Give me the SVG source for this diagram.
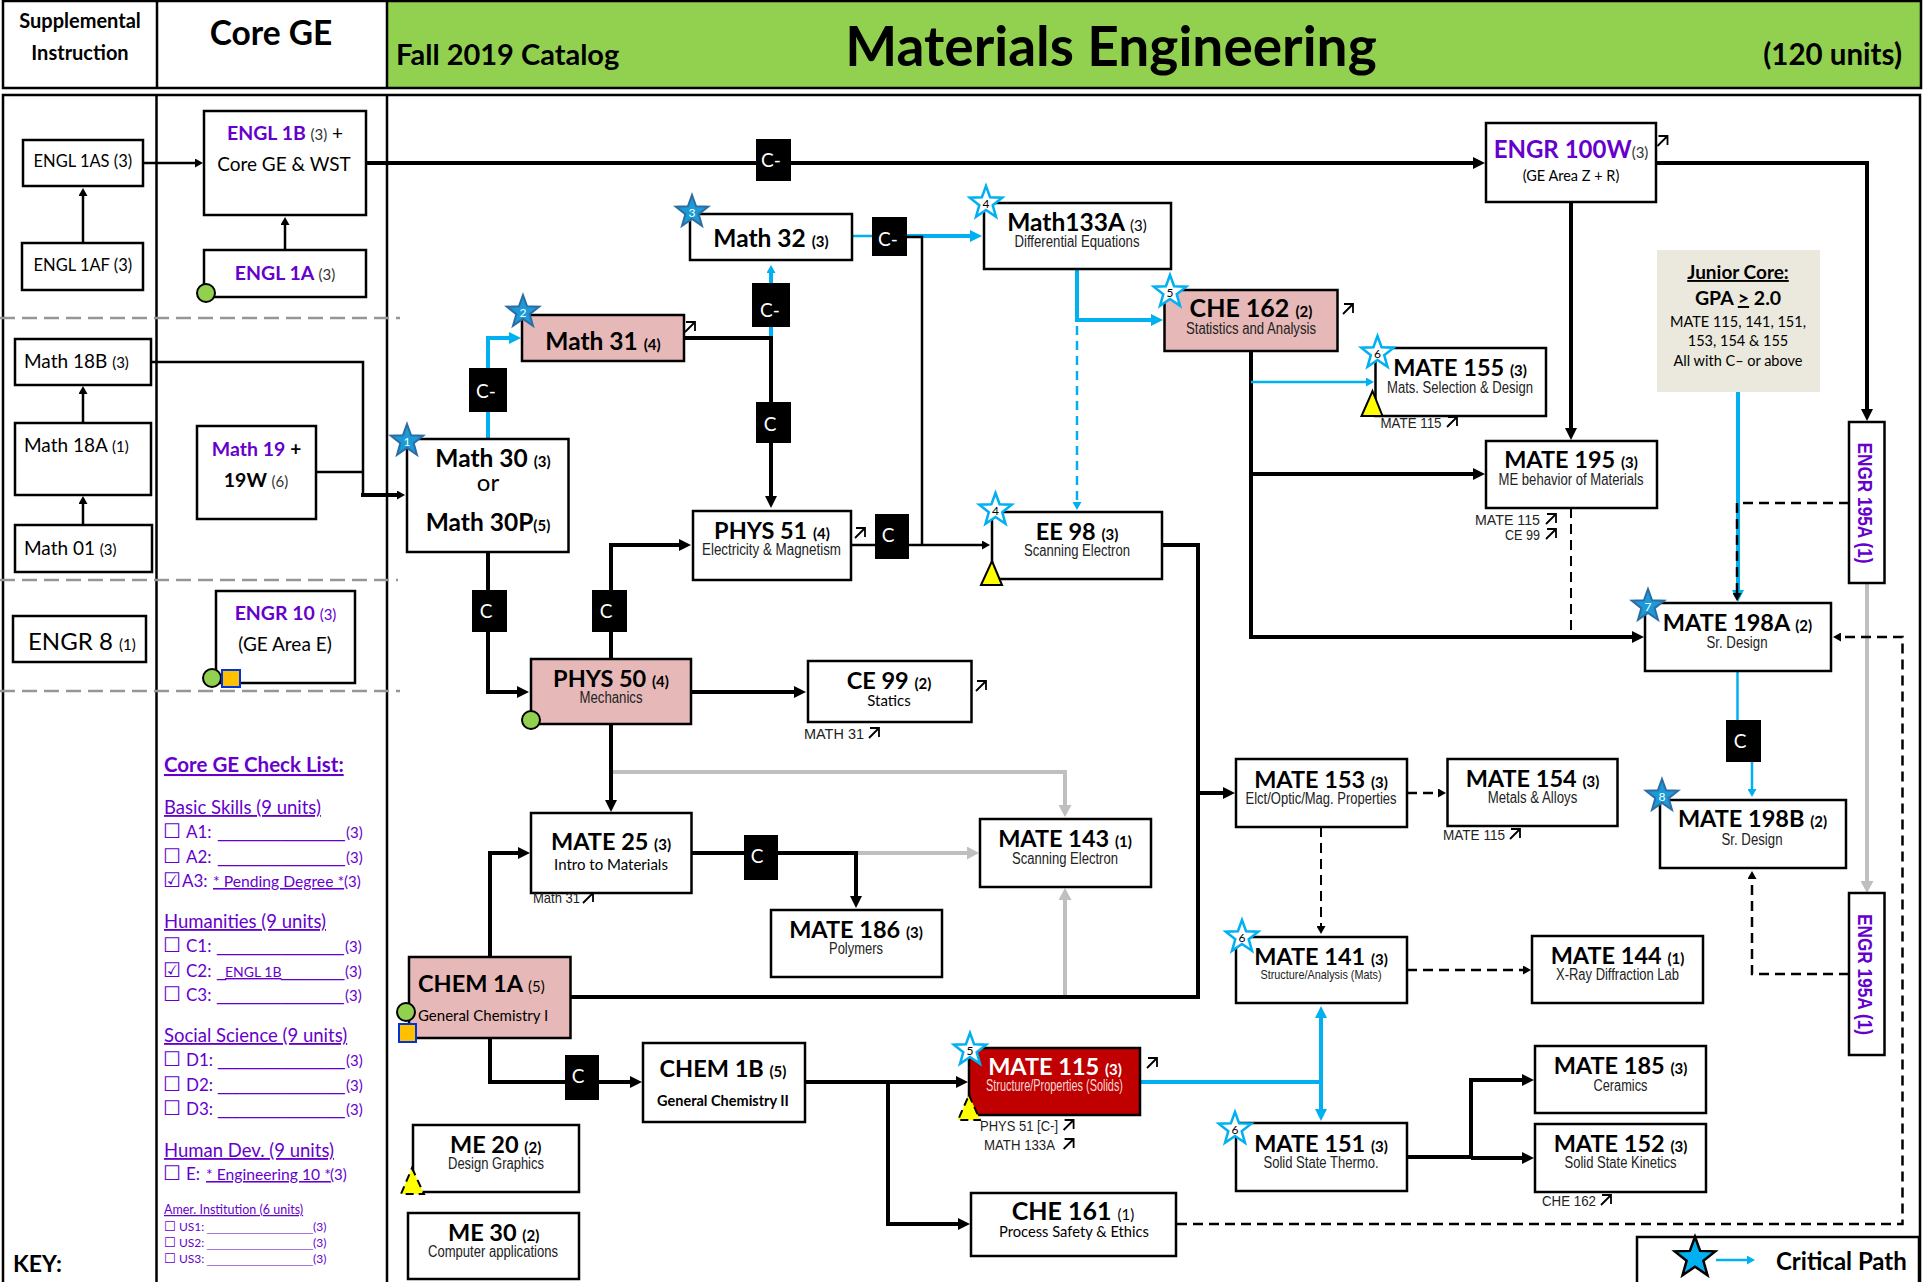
<svg xmlns="http://www.w3.org/2000/svg" width="1923" height="1282" viewBox="0 0 1923 1282">
<style>
text{font-family:Lato,"Liberation Sans",sans-serif;fill:#000;text-decoration-skip-ink:none}
.box{fill:#fff;stroke:#000;stroke-width:2.5}
.pink{fill:#e6b8b7}
.b{font-weight:700;font-size:23.5px;text-anchor:middle}
.b tspan{font-size:15px}
.w{font-size:24.5px}
.s{font-family:"Liberation Sans",sans-serif;font-size:16px;text-anchor:middle;fill:#222}
.n{font-family:"Liberation Sans",sans-serif;font-size:15px;fill:#222}
.l{font-size:16.5px}
.l2{font-size:19px}
.l2 tspan{font-size:15px}
.p{fill:#6600cc;font-weight:700;font-size:19.5px;text-anchor:middle}
.p tspan{font-weight:400;font-size:15px;fill:#333}
.m{font-size:19px;text-anchor:middle}
.ck{fill:#6600cc;font-size:17px}
.ck tspan{fill:#6600cc}
.ck .cb{font-family:"DejaVu Sans",sans-serif;font-size:20px;font-weight:700}
.ck .u{font-size:15px}
.ck .us{font-family:"Liberation Sans",sans-serif;font-size:16.3px}
.ck .pd{font-size:15.7px;text-decoration:underline}
.sm{font-size:12px}
.ck.sm .cb{font-size:13px}
.ck.sm .us{font-size:11.9px;fill:#9a66dd}
.h{fill:#6600cc;font-size:18.5px;text-decoration:underline}
.c{fill:#000}
.ct{fill:#fff;font-size:19px;text-anchor:middle}
.v{font-family:"Liberation Sans",sans-serif;fill:#6600cc;font-size:20px;font-weight:700;text-anchor:middle}
.k{fill:none;stroke:#000;stroke-width:4}
.t{fill:none;stroke:#000;stroke-width:2.5}
.bl{fill:none;stroke:#00b0f0;stroke-width:4}
.bt{fill:none;stroke:#00b0f0;stroke-width:2.5}
.g{fill:none;stroke:#bfbfbf;stroke-width:4}
.d{fill:none;stroke:#000;stroke-width:2.5;stroke-dasharray:10 6}
.dv{fill:none;stroke:#000;stroke-width:2;stroke-dasharray:10 6}
.gd{fill:none;stroke:#969696;stroke-width:2.5;stroke-dasharray:15 7}
.s1{fill:#1a9ad6;stroke:#2e6ca4;stroke-width:2}
.s2{fill:#fff;stroke:#00b0f0;stroke-width:2.5}
.sn1{fill:#fff;font-size:12px;text-anchor:middle}
.sn2{fill:#000;font-size:12px;text-anchor:middle}
.tri{fill:#ffff00;stroke:#000;stroke-width:2}
.trid{fill:#ffff00;stroke:#000;stroke-width:2;stroke-dasharray:8 5}
.gc{fill:#92d050;stroke:#000;stroke-width:2}
.os{fill:#ffc000;stroke:#0033e0;stroke-width:2}
.ur{fill:none;stroke:#000;stroke-width:1.8}
</style>
<defs>
<marker id="ak" markerUnits="userSpaceOnUse" markerWidth="12" markerHeight="12" viewBox="0 0 12 12" refX="1" refY="6" orient="auto"><path d="M0 0L12 6L0 12z" fill="#000"/></marker>
<marker id="as" markerUnits="userSpaceOnUse" markerWidth="8" markerHeight="9" viewBox="0 0 8 9" refX="1" refY="4.5" orient="auto"><path d="M0 0L8 4.5L0 9z" fill="#000"/></marker>
<marker id="ab" markerUnits="userSpaceOnUse" markerWidth="12" markerHeight="12" viewBox="0 0 12 12" refX="1" refY="6" orient="auto"><path d="M0 0L12 6L0 12z" fill="#00b0f0"/></marker>
<marker id="abs" markerUnits="userSpaceOnUse" markerWidth="8" markerHeight="9" viewBox="0 0 8 9" refX="1" refY="4.5" orient="auto"><path d="M0 0L8 4.5L0 9z" fill="#00b0f0"/></marker>
<marker id="ag" markerUnits="userSpaceOnUse" markerWidth="12" markerHeight="13" viewBox="0 0 12 13" refX="1" refY="6.5" orient="auto"><path d="M0 0L12 6.5L0 13z" fill="#bfbfbf"/></marker>
<polygon id="star" points="0,-17 4.1,-5.7 16.2,-5.3 6.7,2.2 10,13.8 0,7 -10,13.8 -6.7,2.2 -16.2,-5.3 -4.1,-5.7"/>
<path id="ne" d="M-5 5L5 -5M-4 -5H5V4" class="ur"/>
</defs>

<g id="frame">
<rect x="387" y="1" width="1534" height="87" fill="#92d050"/>
<path d="M3 88V1H1921V88ZM157 1V88M387 1V88" fill="none" stroke="#000" stroke-width="2.5"/>
<path d="M3 1282V95H1920V1282M156.500 95V1282M387 95V1282" fill="none" stroke="#000" stroke-width="2.5"/>
<path class="gd" d="M0 318H400M0 580H398M0 691H400"/>
<text x="80" y="28" font-size="20" font-weight="700" text-anchor="middle">Supplemental</text>
<text x="80" y="60" font-size="20" font-weight="700" text-anchor="middle">Instruction</text>
<text x="271" y="45" font-size="33.500" font-weight="700" text-anchor="middle">Core GE</text>
<text x="396" y="65" font-size="29" font-weight="700">Fall 2019 Catalog</text>
<text x="1111" y="66" font-size="55" font-weight="700" text-anchor="middle">Materials Engineering</text>
<text x="1902" y="65" font-size="29.500" font-weight="700" text-anchor="end">(120 units)</text>
<text x="13" y="1272" font-size="23" font-weight="700">KEY:</text>
</g>

<g id="connectors">
<path class="g" d="M611 772H1065V806" marker-end="url(#ag)"/>
<path class="g" d="M856 853H968" marker-end="url(#ag)"/>
<path class="g" d="M1065 997V899" marker-end="url(#ag)"/>
<path class="g" d="M1867 583V882" stroke-width="3" marker-end="url(#ag)"/>

<path class="t" d="M143 163H196" marker-end="url(#as)"/>
<path class="t" d="M83 243V195" marker-end="url(#as)"/>
<path class="t" d="M285 250V224" marker-end="url(#as)"/>
<path class="t" d="M83 423V393" marker-end="url(#as)"/>
<path class="t" d="M83 525V503" marker-end="url(#as)"/>
<path class="t" d="M151 362H363V495"/>
<path class="t" d="M316 472H362"/>
<path class="k" d="M361 495H398" stroke-width="3" marker-end="url(#as)"/>

<path class="k" d="M366 163H1474" marker-end="url(#ak)"/>
<path class="k" d="M1656 163H1867V410" marker-end="url(#ak)"/>
<path class="k" d="M1571 202V429" marker-end="url(#ak)"/>

<path class="bl" d="M488 439V338H510" marker-end="url(#ab)"/>
<path class="k" d="M488 552V692H518" marker-end="url(#ak)"/>
<path class="bl" d="M771 338V272" marker-end="url(#abs)"/>
<path class="k" d="M684 338H771V497" marker-end="url(#ak)"/>
<path class="bt" d="M852 236H890"/>
<path class="bl" d="M900 236H971" marker-end="url(#ab)"/>
<path class="t" d="M900 237H922V545"/>
<path class="t" d="M851 545H983" marker-end="url(#as)"/>
<path class="bl" d="M1077 269V320H1152" marker-end="url(#ab)"/>
<path class="bt" d="M1077 326V503" stroke-dasharray="9 6"/>
<path class="bt" d="M1077 502V503" marker-end="url(#abs)"/>
<path class="k" d="M1251 351V637H1633" marker-end="url(#ak)"/>
<path class="bt" d="M1251 382H1367" marker-end="url(#abs)"/>
<path class="k" d="M1251 474H1474" marker-end="url(#ak)"/>
<path class="dv" d="M1571 508V637"/>
<path class="bl" d="M1738 392V591" marker-end="url(#ab)"/>
<path class="d" d="M1849 503H1737V594" marker-end="url(#as)"/>
<path class="bt" d="M1737.500 671V720"/>
<path class="bt" d="M1752 762V790" marker-end="url(#abs)"/>
<path class="d" d="M1849 974H1752V878" marker-end="url(#as)"/>

<path class="k" d="M611 659V545H680" marker-end="url(#ak)"/>
<path class="k" d="M691 692H795" marker-end="url(#ak)"/>
<path class="k" d="M611 724V801" marker-end="url(#ak)"/>
<path class="k" d="M691 853H856V897" marker-end="url(#ak)"/>
<path class="k" d="M490 957V853H519" marker-end="url(#ak)"/>
<path class="k" d="M571 997H1198V545H1162"/>
<path class="k" d="M1198 793H1224" marker-end="url(#ak)"/>
<path class="k" d="M490 1038V1082H631" marker-end="url(#ak)"/>
<path class="k" d="M805 1082H957" marker-end="url(#ak)"/>
<path class="k" d="M888 1082V1224H959" marker-end="url(#ak)"/>
<path class="bl" d="M1140 1082H1321"/>
<path class="bl" d="M1321 1082V1017" marker-end="url(#ab)"/>
<path class="bl" d="M1321 1082V1110" marker-end="url(#ab)"/>
<path class="k" d="M1407 1157H1471V1080H1523" marker-end="url(#ak)"/>
<path class="k" d="M1471 1158H1523" marker-end="url(#ak)"/>
<path class="d" d="M1407 793H1439" marker-end="url(#as)"/>
<path class="dv" d="M1321 827V927" marker-end="url(#as)"/>
<path class="d" d="M1407 970H1524" marker-end="url(#as)"/>
<path class="d" d="M1177 1224H1902.500V637H1840" marker-end="url(#as)"/>
</g>

<g id="grades">
<g id="g1"><rect class="c" x="469" y="368" width="38" height="44"/><text class="ct" x="486" y="398">C-</text></g>
<g id="g2"><rect class="c" x="472" y="590" width="35" height="42"/><text class="ct" x="486" y="618">C</text></g>
<g id="g3"><rect class="c" x="592" y="590" width="35" height="42"/><text class="ct" x="606" y="618">C</text></g>
<g id="g4"><rect class="c" x="756" y="139" width="35" height="42"/><text class="ct" x="771" y="167">C-</text></g>
<g id="g5"><rect class="c" x="872" y="217" width="35" height="39"/><text class="ct" x="888" y="246">C-</text></g>
<g id="g6"><rect class="c" x="752" y="283" width="38" height="44"/><text class="ct" x="770" y="317">C-</text></g>
<g id="g7"><rect class="c" x="756" y="402" width="35" height="41"/><text class="ct" x="770" y="431">C</text></g>
<g id="g8"><rect class="c" x="875" y="514" width="34" height="45"/><text class="ct" x="888" y="542">C</text></g>
<g id="g9"><rect class="c" x="744" y="835" width="34" height="45"/><text class="ct" x="757" y="863">C</text></g>
<g id="g10"><rect class="c" x="565" y="1055" width="34" height="45"/><text class="ct" x="578" y="1083">C</text></g>
<g id="g11"><rect class="c" x="1726" y="720" width="35" height="42"/><text class="ct" x="1740" y="748">C</text></g>
</g>

<g id="engl1as"><rect class="box" x="23" y="140" width="120" height="46"/><text class="l" x="33.500" y="167">ENGL 1AS (3)</text></g>
<g id="engl1af"><rect class="box" x="22" y="243" width="121" height="47"/><text class="l" x="33.500" y="271">ENGL 1AF (3)</text></g>
<g id="engl1b"><rect class="box" x="204" y="111" width="162" height="104"/><text class="p" x="285" y="140">ENGL 1B <tspan>(3)</tspan> <tspan style="fill:#000;font-size:19px">+</tspan></text><text class="m" x="284" y="171">Core GE &amp; WST</text></g>
<g id="engl1a"><rect class="box" x="204" y="250" width="162" height="47"/><text class="p" x="285" y="280">ENGL 1A <tspan>(3)</tspan></text><circle class="gc" cx="206" cy="293" r="9"/></g>
<g id="math18b"><rect class="box" x="15" y="339" width="136" height="46"/><text class="l2" x="24" y="368">Math 18B <tspan>(3)</tspan></text></g>
<g id="math18a"><rect class="box" x="15" y="423" width="136" height="72"/><text class="l2" x="24" y="452">Math 18A <tspan>(1)</tspan></text></g>
<g id="math01"><rect class="box" x="15" y="525" width="137" height="47"/><text class="l2" x="24" y="555">Math 01 <tspan>(3)</tspan></text></g>
<g id="math19"><rect class="box" x="197" y="426" width="119" height="93"/><text class="p" x="256.500" y="456">Math 19 <tspan style="font-weight:700;font-size:19px;fill:#000">+</tspan></text><text class="p" style="fill:#000" x="256" y="487">19W  <tspan>(6)</tspan></text></g>
<g id="engr8"><rect class="box" x="13" y="616" width="133" height="46"/><text x="28" y="650" font-size="24">ENGR 8 <tspan font-size="15">(1)</tspan></text></g>
<g id="engr10"><rect class="box" x="216" y="591" width="139" height="92"/><text class="p" x="285.500" y="620">ENGR 10 <tspan style="fill:#6600cc">(3)</tspan></text><text class="m" x="285" y="651">(GE Area E)</text><circle class="gc" cx="212" cy="678" r="9"/><rect class="os" x="222" y="670" width="18" height="17"/></g>

<g id="math30"><rect class="box" x="407" y="439" width="161.500" height="113"/><text class="b w" x="493" y="467">Math 30 <tspan>(3)</tspan></text><text x="488" y="491" font-size="24" text-anchor="middle">or</text><text class="b w" x="488" y="531">Math 30P<tspan>(5)</tspan></text><use href="#star" class="s1" x="407" y="441"/><text class="sn1" x="407" y="446">1</text></g>
<g id="math31"><rect class="box pink" x="522" y="315" width="162" height="46"/><text class="b w" x="603" y="350">Math 31 <tspan>(4)</tspan></text><use href="#star" class="s1" x="523" y="312"/><text class="sn1" x="523" y="317">2</text><use href="#ne" x="690" y="327"/></g>
<g id="math32"><rect class="box" x="690" y="214" width="162" height="46"/><text class="b w" x="771" y="247">Math 32 <tspan>(3)</tspan></text><use href="#star" class="s1" x="692" y="212"/><text class="sn1" x="692" y="217">3</text></g>
<g id="math133a"><rect class="box" x="984" y="203" width="187" height="66"/><text class="b w" x="1077" y="231">Math133A <tspan style="font-weight:400">(3)</tspan></text><text class="s" x="1077" y="247" textLength="125" lengthAdjust="spacingAndGlyphs">Differential Equations</text><use href="#star" class="s2" x="986" y="203"/><text class="sn2" x="986" y="208">4</text></g>
<g id="che162"><rect class="box pink" x="1164.500" y="290" width="173" height="61"/><text class="b" style="font-size:25px" x="1251" y="317">CHE 162 <tspan>(2)</tspan></text><text class="s" x="1251" y="334" textLength="130" lengthAdjust="spacingAndGlyphs">Statistics and Analysis</text><use href="#star" class="s2" x="1170" y="292"/><text class="sn2" x="1170" y="297">5</text><use href="#ne" x="1348" y="309"/></g>
<g id="engr100w"><rect class="box" x="1486" y="123" width="170" height="79"/><text class="b" x="1571" y="158" style="fill:#6600cc;font-size:24px">ENGR 100W<tspan style="fill:#333;font-weight:400">(3)</tspan></text><text x="1571" y="181" font-size="14.500" text-anchor="middle" fill="#222">(GE Area Z + R)</text><use href="#ne" x="1662.500" y="141"/></g>
<g id="mate155"><rect class="box" x="1375.500" y="348" width="170.500" height="68"/><text class="b" x="1460" y="376">MATE 155 <tspan>(3)</tspan></text><text class="s" x="1460" y="393" textLength="146" lengthAdjust="spacingAndGlyphs">Mats. Selection &amp; Design</text><text class="n" x="1380.500" y="428" textLength="61" lengthAdjust="spacingAndGlyphs">MATE 115</text><use href="#ne" x="1452" y="422"/><use href="#star" class="s2" x="1377.500" y="353"/><text class="sn2" x="1377.500" y="358">6</text><polygon class="tri" points="1372.500,391 1382.500,416 1361.500,416"/></g>
<g id="mate195"><rect class="box" x="1486" y="441" width="171" height="67"/><text class="b" x="1571" y="468">MATE 195 <tspan>(3)</tspan></text><text class="s" x="1571" y="485" textLength="145" lengthAdjust="spacingAndGlyphs">ME behavior of Materials</text><text class="n" x="1475" y="525" textLength="65" lengthAdjust="spacingAndGlyphs">MATE 115</text><use href="#ne" x="1551" y="519"/><text class="n" x="1505" y="540" textLength="35" lengthAdjust="spacingAndGlyphs">CE 99</text><use href="#ne" x="1551" y="534"/></g>
<g id="juniorcore"><rect x="1657" y="250" width="163" height="142" fill="#ebe9dd"/><text x="1738" y="279" font-size="19" font-weight="700" text-anchor="middle" text-decoration="underline">Junior Core:</text><text x="1738" y="305" font-size="19.500" font-weight="700" text-anchor="middle">GPA <tspan text-decoration="underline">&gt;</tspan> 2.0</text><text x="1738" y="327" font-size="14.500" text-anchor="middle">MATE 115, 141, 151,</text><text x="1738" y="346" font-size="14.500" text-anchor="middle">153, 154 &amp; 155</text><text x="1738" y="366" font-size="14.500" text-anchor="middle">All with C– or above</text></g>
<g id="engr195a1"><rect class="box" x="1849" y="422" width="35.500" height="161"/><text class="v" transform="translate(1858 503) rotate(90)" textLength="121" lengthAdjust="spacingAndGlyphs">ENGR 195A (1)</text></g>
<g id="engr195a2"><rect class="box" x="1849" y="893" width="35.500" height="162"/><text class="v" transform="translate(1858 974.500) rotate(90)" textLength="121" lengthAdjust="spacingAndGlyphs">ENGR 195A (1)</text></g>

<g id="phys51"><rect class="box" x="693" y="511" width="158" height="69"/><text class="b" x="772" y="539">PHYS 51 <tspan>(4)</tspan></text><text class="s" x="771.500" y="555" textLength="139" lengthAdjust="spacingAndGlyphs">Electricity &amp;  Magnetism</text><use href="#ne" x="860" y="533"/></g>
<g id="ee98"><rect class="box" x="992" y="512" width="170" height="67"/><text class="b" x="1077" y="540">EE 98 <tspan>(3)</tspan></text><text class="s" x="1077" y="556" textLength="106" lengthAdjust="spacingAndGlyphs">Scanning Electron</text><use href="#star" class="s2" x="995.500" y="510"/><text class="sn2" x="995.500" y="515">4</text><polygon class="tri" points="992,561 1002,585 981,585"/></g>
<g id="phys50"><rect class="box pink" x="531" y="659" width="160" height="65"/><text class="b" x="611" y="687">PHYS 50 <tspan>(4)</tspan></text><text class="s" x="611" y="703" textLength="63" lengthAdjust="spacingAndGlyphs">Mechanics</text><circle class="gc" cx="531" cy="720" r="9"/></g>
<g id="ce99"><rect class="box" x="808" y="661" width="163.500" height="61"/><text class="b" x="889" y="689">CE 99 <tspan>(2)</tspan></text><text x="889" y="706" font-size="15" text-anchor="middle" fill="#222">Statics</text><use href="#ne" x="981" y="686"/><text class="n" x="804" y="739" textLength="60" lengthAdjust="spacingAndGlyphs">MATH 31</text><use href="#ne" x="874" y="733"/></g>
<g id="mate25"><rect class="box" x="531" y="813" width="160.500" height="80"/><text class="b" x="611" y="850">MATE 25 <tspan>(3)</tspan></text><text x="611" y="870" font-size="15" text-anchor="middle" fill="#222">Intro to Materials</text><text class="n" x="533" y="903" textLength="47" lengthAdjust="spacingAndGlyphs">Math 31</text><use href="#ne" x="588" y="898"/></g>
<g id="mate143"><rect class="box" x="980" y="819" width="171" height="68"/><text class="b" x="1065" y="847">MATE 143 <tspan>(1)</tspan></text><text class="s" x="1065" y="864" textLength="106" lengthAdjust="spacingAndGlyphs">Scanning Electron</text></g>
<g id="mate186"><rect class="box" x="771" y="910" width="171" height="67"/><text class="b" x="856" y="938">MATE 186 <tspan>(3)</tspan></text><text class="s" x="856" y="954" textLength="54" lengthAdjust="spacingAndGlyphs">Polymers</text></g>
<g id="chem1a"><rect class="box pink" x="409" y="957" width="161.500" height="81"/><text class="b" x="418" y="992" style="text-anchor:start">CHEM 1A <tspan style="font-weight:400">(5)</tspan></text><text x="418" y="1021" font-size="15" fill="#222">General Chemistry I</text><circle class="gc" cx="406" cy="1012" r="9"/><rect class="os" x="399" y="1024" width="17" height="18"/></g>
<g id="chem1b"><rect class="box" x="643" y="1043" width="162" height="79"/><text class="b" x="723" y="1077">CHEM 1B <tspan>(5)</tspan></text><text x="723" y="1106" font-size="14.500" font-weight="700" text-anchor="middle">General Chemistry II</text></g>
<g id="mate115"><rect class="box" x="969" y="1048" width="171" height="67" style="fill:#c00000"/><text class="b" x="1055" y="1075" style="fill:#fff">MATE 115 <tspan style="fill:#fff">(3)</tspan></text><text class="s" x="1054.500" y="1091" style="fill:#f4d8d8" textLength="137" lengthAdjust="spacingAndGlyphs">Structure/Properties (Solids)</text><use href="#ne" x="1152" y="1063"/><text class="n" x="980" y="1131" textLength="78" lengthAdjust="spacingAndGlyphs">PHYS 51 [C-]</text><use href="#ne" x="1068.600" y="1125"/><text class="n" x="984" y="1150" textLength="71" lengthAdjust="spacingAndGlyphs">MATH 133A</text><use href="#ne" x="1068.600" y="1144"/><use href="#star" class="s2" x="970" y="1050"/><text class="sn2" x="970" y="1055">5</text><polygon class="trid" points="969,1095 980,1120 958,1120"/></g>
<g id="che161"><rect class="box" x="971" y="1193" width="205" height="63"/><text class="b" style="font-size:25px" x="1073" y="1220">CHE 161 <tspan style="font-weight:400">(1)</tspan></text><text x="1074" y="1237" font-size="15" text-anchor="middle" fill="#222" textLength="150" lengthAdjust="spacingAndGlyphs">Process Safety &amp; Ethics</text></g>
<g id="me20"><rect class="box" x="413" y="1125" width="166" height="67"/><text class="b" x="495.600" y="1153">ME 20 <tspan>(2)</tspan></text><text class="s" x="496" y="1169" textLength="96" lengthAdjust="spacingAndGlyphs">Design Graphics</text><polygon class="trid" points="412,1168 424,1194 401,1194"/></g>
<g id="me30"><rect class="box" x="408" y="1213" width="171" height="66"/><text class="b" x="493.600" y="1241">ME 30 <tspan>(2)</tspan></text><text class="s" x="493" y="1257" textLength="130" lengthAdjust="spacingAndGlyphs">Computer applications</text></g>

<g id="mate198a"><rect class="box" x="1645" y="603" width="186" height="68"/><text class="b" x="1737.500" y="631">MATE 198A <tspan>(2)</tspan></text><text class="s" x="1737" y="648" textLength="61" lengthAdjust="spacingAndGlyphs">Sr. Design</text><use href="#star" class="s1" x="1648" y="606"/><text class="sn1" x="1648" y="611">7</text></g>
<g id="mate198b"><rect class="box" x="1660" y="800" width="186" height="68"/><text class="b" x="1752.500" y="827">MATE 198B <tspan>(2)</tspan></text><text class="s" x="1752" y="845" textLength="61" lengthAdjust="spacingAndGlyphs">Sr. Design</text><use href="#star" class="s1" x="1662" y="796"/><text class="sn1" x="1662" y="801">8</text></g>
<g id="mate153"><rect class="box" x="1236" y="759" width="171" height="68"/><text class="b" x="1321" y="788">MATE 153 <tspan>(3)</tspan></text><text class="s" x="1321" y="804" textLength="151" lengthAdjust="spacingAndGlyphs">Elct/Optic/Mag. Properties</text></g>
<g id="mate154"><rect class="box" x="1447.500" y="759" width="170" height="67"/><text class="b" x="1532.500" y="787">MATE 154 <tspan>(3)</tspan></text><text class="s" x="1532.500" y="803" textLength="89.500" lengthAdjust="spacingAndGlyphs">Metals &amp; Alloys</text><text class="n" x="1443" y="840" textLength="62" lengthAdjust="spacingAndGlyphs">MATE 115</text><use href="#ne" x="1515" y="834"/></g>
<g id="mate141"><rect class="box" x="1236" y="937" width="171" height="66"/><text class="b" x="1321" y="965">MATE 141 <tspan>(3)</tspan></text><text class="s" x="1321" y="979" style="font-size:13.500px" textLength="121" lengthAdjust="spacingAndGlyphs">Structure/Analysis (Mats)</text><use href="#star" class="s2" x="1242" y="937"/><text class="sn2" x="1242" y="942">6</text></g>
<g id="mate144"><rect class="box" x="1532" y="936" width="171" height="67"/><text class="b" x="1617.500" y="964">MATE 144 <tspan>(1)</tspan></text><text class="s" x="1617.500" y="980" textLength="123" lengthAdjust="spacingAndGlyphs">X-Ray Diffraction Lab</text></g>
<g id="mate151"><rect class="box" x="1236" y="1123" width="171" height="68"/><text class="b" x="1321" y="1152">MATE 151 <tspan>(3)</tspan></text><text class="s" x="1321" y="1168" textLength="115" lengthAdjust="spacingAndGlyphs">Solid State Thermo.</text><use href="#star" class="s2" x="1235" y="1129"/><text class="sn2" x="1235" y="1134">6</text></g>
<g id="mate185"><rect class="box" x="1535" y="1046" width="171" height="67"/><text class="b" x="1620.500" y="1074">MATE 185 <tspan>(3)</tspan></text><text class="s" x="1620.500" y="1091" textLength="54" lengthAdjust="spacingAndGlyphs">Ceramics</text></g>
<g id="mate152"><rect class="box" x="1535" y="1124" width="171" height="68"/><text class="b" x="1620.500" y="1152">MATE 152 <tspan>(3)</tspan></text><text class="s" x="1620.500" y="1168" textLength="112" lengthAdjust="spacingAndGlyphs">Solid State Kinetics</text><text class="n" x="1542" y="1206" textLength="54" lengthAdjust="spacingAndGlyphs">CHE 162</text><use href="#ne" x="1606" y="1200"/></g>

<g id="checklist">
<text x="164" y="772" font-size="20.500" font-weight="700" style="fill:#6600cc" text-decoration="underline">Core GE Check List:</text>
<text class="h" x="164" y="814">Basic Skills (9 units)</text>
<text class="ck" y="838"><tspan class="cb" x="163">☐</tspan><tspan x="186">A1:</tspan><tspan class="us" x="218">______________</tspan><tspan class="u" x="346">(3)</tspan></text>
<text class="ck" y="863"><tspan class="cb" x="163">☐</tspan><tspan x="186">A2:</tspan><tspan class="us" x="218">______________</tspan><tspan class="u" x="346">(3)</tspan></text>
<text class="ck" y="887"><tspan class="cb" x="163">☑</tspan><tspan x="182">A3:</tspan><tspan class="pd" x="213">* Pending Degree  *</tspan><tspan class="u" x="344">(3)</tspan></text>
<text class="h" x="164" y="928">Humanities (9 units)</text>
<text class="ck" y="952"><tspan class="cb" x="163">☐</tspan><tspan x="186">C1:</tspan><tspan class="us" x="217">______________</tspan><tspan class="u" x="345">(3)</tspan></text>
<text class="ck" y="977"><tspan class="cb" x="163">☑</tspan><tspan x="186">C2:</tspan><tspan class="us" x="217">_</tspan><tspan x="225" font-size="14" text-decoration="underline">ENGL 1B</tspan><tspan class="us" x="281">_______</tspan><tspan class="u" x="345">(3)</tspan></text>
<text class="ck" y="1001"><tspan class="cb" x="163">☐</tspan><tspan x="186">C3:</tspan><tspan class="us" x="217">______________</tspan><tspan class="u" x="345">(3)</tspan></text>
<text class="h" x="164" y="1042">Social Science (9 units)</text>
<text class="ck" y="1066"><tspan class="cb" x="163">☐</tspan><tspan x="186">D1:</tspan><tspan class="us" x="218">______________</tspan><tspan class="u" x="346">(3)</tspan></text>
<text class="ck" y="1091"><tspan class="cb" x="163">☐</tspan><tspan x="186">D2:</tspan><tspan class="us" x="218">______________</tspan><tspan class="u" x="346">(3)</tspan></text>
<text class="ck" y="1115"><tspan class="cb" x="163">☐</tspan><tspan x="186">D3:</tspan><tspan class="us" x="218">______________</tspan><tspan class="u" x="346">(3)</tspan></text>
<text class="h" x="164" y="1157">Human Dev. (9 units)</text>
<text class="ck" y="1180"><tspan class="cb" x="163">☐</tspan><tspan x="186">E:</tspan><tspan class="pd" x="206">* Engineering 10  *</tspan><tspan class="u" x="330">(3)</tspan></text>
<text class="h" x="164" y="1214" style="font-size:12.500px">Amer. Institution (6 units)</text>
<text class="ck sm" y="1231"><tspan class="cb" x="164">☐</tspan><tspan x="179">US1:</tspan><tspan class="us" x="207">________________</tspan><tspan x="313">(3)</tspan></text>
<text class="ck sm" y="1247"><tspan class="cb" x="164">☐</tspan><tspan x="179">US2:</tspan><tspan class="us" x="207">________________</tspan><tspan x="313">(3)</tspan></text>
<text class="ck sm" y="1263"><tspan class="cb" x="164">☐</tspan><tspan x="179">US3:</tspan><tspan class="us" x="207">________________</tspan><tspan x="313">(3)</tspan></text>
</g>

<g id="key">
<path d="M1637 1282V1237H1919V1282" class="box"/>
<use href="#star" transform="translate(1695 1258) scale(1.250)" style="fill:#00b0f0;stroke:#000;stroke-width:2"/>
<path class="bt" d="M1716 1260H1748" marker-end="url(#abs)"/>
<text x="1776" y="1270" font-size="24" font-weight="700">Critical Path</text>
</g>
</svg>
